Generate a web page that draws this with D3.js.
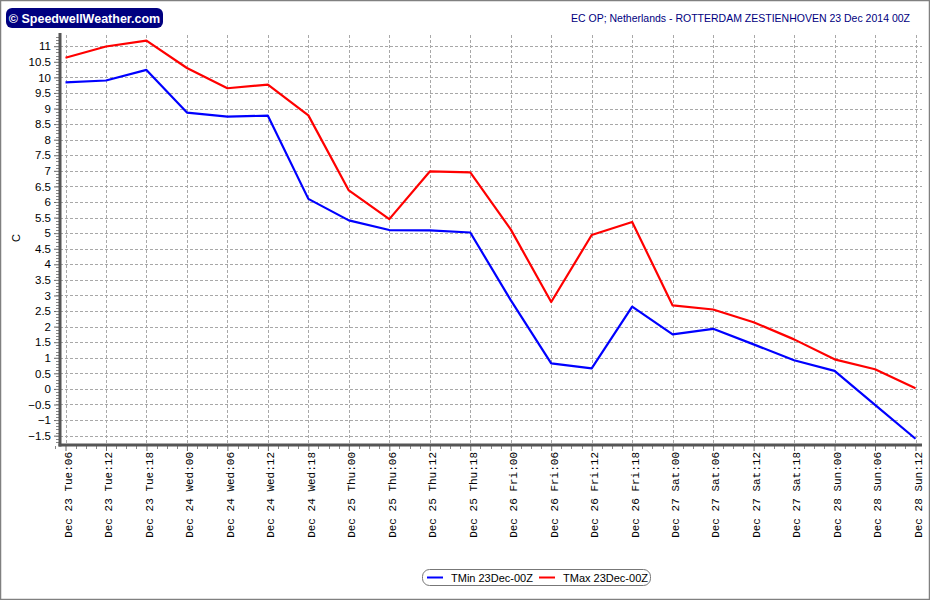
<!DOCTYPE html>
<html><head><meta charset="utf-8">
<script src="https://cdn.jsdelivr.net/npm/d3@7"></script>
<style>body{margin:0;background:#fff;} svg{display:block;}</style>
</head><body>
<svg id="chart" width="930" height="600"></svg>
<script>
const categories = ["Dec 23 Tue:06","Dec 23 Tue:12","Dec 23 Tue:18","Dec 24 Wed:00","Dec 24 Wed:06","Dec 24 Wed:12","Dec 24 Wed:18","Dec 25 Thu:00","Dec 25 Thu:06","Dec 25 Thu:12","Dec 25 Thu:18","Dec 26 Fri:00","Dec 26 Fri:06","Dec 26 Fri:12","Dec 26 Fri:18","Dec 27 Sat:00","Dec 27 Sat:06","Dec 27 Sat:12","Dec 27 Sat:18","Dec 28 Sun:00","Dec 28 Sun:06","Dec 28 Sun:12"];
const tmin = [9.84,9.90,10.24,8.87,8.74,8.77,6.10,5.41,5.10,5.09,5.02,2.85,0.82,0.66,2.64,1.75,1.93,1.43,0.92,0.58,-0.51,-1.60];
const tmax = [10.63,10.99,11.18,10.30,9.65,9.77,8.78,6.37,5.45,6.98,6.95,5.12,2.79,4.94,5.36,2.68,2.55,2.14,1.59,0.95,0.63,0.02];
const yTicks = [-1.5,-1,-0.5,0,0.5,1,1.5,2,2.5,3,3.5,4,4.5,5,5.5,6,6.5,7,7.5,8,8.5,9,9.5,10,10.5,11];
const seriesNames = ["TMin 23Dec-00Z","TMax 23Dec-00Z"];
const title = "EC OP; Netherlands - ROTTERDAM ZESTIENHOVEN 23 Dec 2014 00Z";
const yLabel = "C";
const logoText = "\u00A9 SpeedwellWeather.com";

const svg = d3.select("#chart");
const L = 60, R = 922, T = 35, B = 445;
const x = d3.scalePoint().domain(categories).range([65.5, 915.5]);
const y = d3.scaleLinear().domain([-1.8, 11.36]).range([B, T]);

// outer frame
svg.append("rect").attr("x",0.5).attr("y",0.5).attr("width",929).attr("height",599)
  .attr("fill","#fff").attr("stroke","#808080").attr("stroke-width",1.5);

// logo
svg.append("rect").attr("x",6).attr("y",8).attr("width",157).attr("height",20).attr("rx",6)
  .attr("fill","#000080");
svg.append("text").attr("x",84.5).attr("y",22.5).attr("text-anchor","middle")
  .attr("fill","#fff").attr("font-family","Liberation Sans, Arial, sans-serif")
  .attr("font-weight","bold").attr("font-size",12.5).text(logoText);

// title
svg.append("text").attr("x",910).attr("y",22).attr("text-anchor","end")
  .attr("fill","#000080").attr("font-family","Liberation Sans, Arial, sans-serif")
  .attr("font-size",10.5).text(title);

// grid
const grid = svg.append("g").attr("stroke","#a8a8a8").attr("stroke-width",1).attr("stroke-dasharray","3,2");
grid.selectAll("line.h").data(yTicks).join("line").attr("class","h")
  .attr("x1",L).attr("x2",R).attr("y1",d=>Math.round(y(d))+0.5).attr("y2",d=>Math.round(y(d))+0.5);
grid.selectAll("line.v").data(categories).join("line").attr("class","v")
  .attr("x1",d=>Math.round(x(d))+0.5).attr("x2",d=>Math.round(x(d))+0.5).attr("y1",T).attr("y2",B);

// y axis
const yAxis = d3.axisLeft(y).tickValues(yTicks).tickSize(5).tickPadding(3).tickFormat(d3.format("~g"));
const ya = svg.append("g").attr("transform",`translate(${L-1},0)`).call(yAxis);
ya.select(".domain").remove();
ya.selectAll("line").attr("stroke","#666");
ya.selectAll("text").attr("font-family","Liberation Sans, Arial, sans-serif").attr("font-size",11.5).attr("fill","#000");
// y minor ticks
const yMinor = d3.range(-17, 114).map(i => i/10);
svg.append("g").selectAll("line").data(yMinor).join("line")
  .attr("x1",L-4).attr("x2",L-1).attr("y1",d=>Math.round(y(d))+0.5).attr("y2",d=>Math.round(y(d))+0.5)
  .attr("stroke","#888").attr("stroke-width",1);

// x axis
const xAxis = d3.axisBottom(x).tickSize(5).tickFormat("");
const xa = svg.append("g").attr("transform",`translate(0,${B+1})`).call(xAxis);
xa.select(".domain").remove();
xa.selectAll("line").attr("stroke","#666");
// x minor ticks (quarter steps)
const step = x.step();
const xMinor = [];
categories.forEach((c,i)=>{ if(i<categories.length-1){ for(let k=1;k<4;k++) xMinor.push(x(c)+k*step/4);} });
xMinor.push(x(categories[0]) - step/4);
svg.append("g").selectAll("line").data(xMinor).join("line")
  .attr("x1",d=>Math.round(d)+0.5).attr("x2",d=>Math.round(d)+0.5).attr("y1",B+1).attr("y2",B+4)
  .attr("stroke","#888");
// x labels
svg.append("g").selectAll("text").data(categories).join("text")
  .attr("transform",d=>`translate(${x(d)+2.5},452) rotate(-90)`)
  .attr("text-anchor","end").attr("dy","0.35em")
  .attr("font-family","Liberation Mono, Courier New, monospace").attr("font-size",11)
  .attr("fill","#000").attr("xml:space","preserve").text(d=>d);

// axis lines
svg.append("line").attr("x1",L).attr("x2",L).attr("y1",T-2).attr("y2",B+1.5)
  .attr("stroke","#555").attr("stroke-width",3);
svg.append("line").attr("x1",L-1.5).attr("x2",R).attr("y1",B).attr("y2",B)
  .attr("stroke","#555").attr("stroke-width",3);

// y label
svg.append("text").attr("transform","translate(16,238) rotate(-90)").attr("text-anchor","middle")
  .attr("dy","0.35em").attr("font-family","Liberation Sans, Arial, sans-serif").attr("font-size",11).text(yLabel);

// lines
const line = d3.line().x((d,i)=>x(categories[i])).y(d=>y(d));
svg.append("path").datum(tmin).attr("d",line).attr("fill","none").attr("stroke","#0000ff").attr("stroke-width",2.2).attr("stroke-linejoin","round");
svg.append("path").datum(tmax).attr("d",line).attr("fill","none").attr("stroke","#ff0000").attr("stroke-width",2.2).attr("stroke-linejoin","round");

// legend
const lg = svg.append("g");
lg.append("rect").attr("x",422.5).attr("y",569.5).attr("width",228).attr("height",16).attr("rx",7)
  .attr("fill","#fff").attr("stroke","#777");
const colors = ["#0000ff","#ff0000"];
const lx = [427, 539];
seriesNames.forEach((n,i)=>{
  lg.append("line").attr("x1",lx[i]).attr("x2",lx[i]+16).attr("y1",577.5).attr("y2",577.5).attr("stroke",colors[i]).attr("stroke-width",2);
  lg.append("text").attr("x",lx[i]+24).attr("y",581.5).attr("font-family","Liberation Sans, Arial, sans-serif")
    .attr("font-size",11).attr("fill","#000").text(n);
});
</script>
</body></html>
